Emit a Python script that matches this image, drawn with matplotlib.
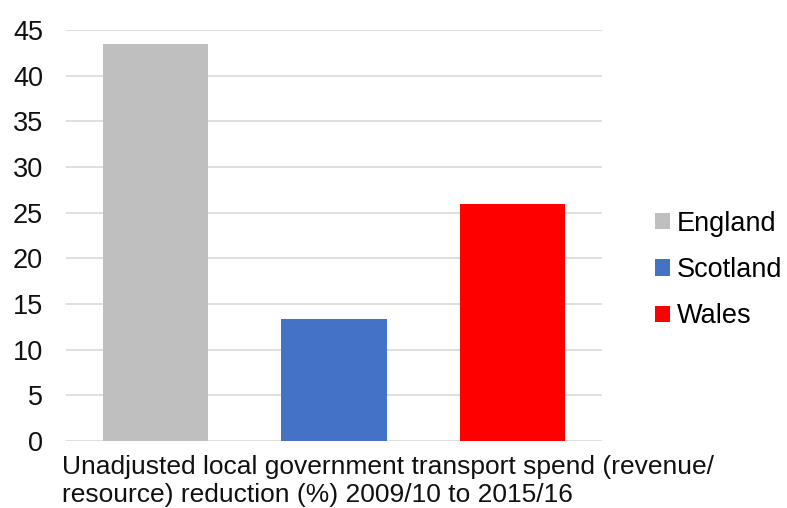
import matplotlib.pyplot as plt

countries = ["England", "Scotland", "Wales"]
reduction = [43.5, 13.4, 25.9]
colors = ["#bfbfbf", "#4472c4", "#ff0000"]
yticks = [0, 5, 10, 15, 20, 25, 30, 35, 40, 45]
caption_lines = ["Unadjusted local government transport spend (revenue/",
                 "resource) reduction (%) 2009/10 to 2015/16"]

plt.rcParams["font.family"] = ["Liberation Sans", "DejaVu Sans"]

fig = plt.figure(figsize=(7.87, 5.08), dpi=100)
ax = fig.add_axes([0.0839, 0.132, 0.681, 0.809])

x = range(len(countries))
bars = ax.bar(x, reduction, width=0.59, color=colors, zorder=3)

ax.set_xlim(-0.5, 2.5)
ax.set_ylim(0, 45)
ax.set_yticks(yticks)
ax.set_xticks([])
ax.tick_params(axis="y", length=0, pad=16.5, labelsize=19.5, labelcolor="#111111")
ax.grid(axis="y", color="#d9d9d9", linewidth=1.2, zorder=0)
for s in ax.spines.values():
    s.set_visible(False)

fig.legend(bars, countries, loc="center left", bbox_to_anchor=(0.832, 0.4685),
           frameon=False, fontsize=19.5, handlelength=0.55, handleheight=0.55,
           handletextpad=0.25, labelspacing=0.75, borderaxespad=0, borderpad=0)

# caption under the axis, one baseline per line
for line, ypos in zip(caption_lines, [0.0669, 0.0118]):
    fig.text(0.079, ypos, line, fontsize=19, color="#111111",
             ha="left", va="baseline")

fig.savefig("out.png", dpi=100)
